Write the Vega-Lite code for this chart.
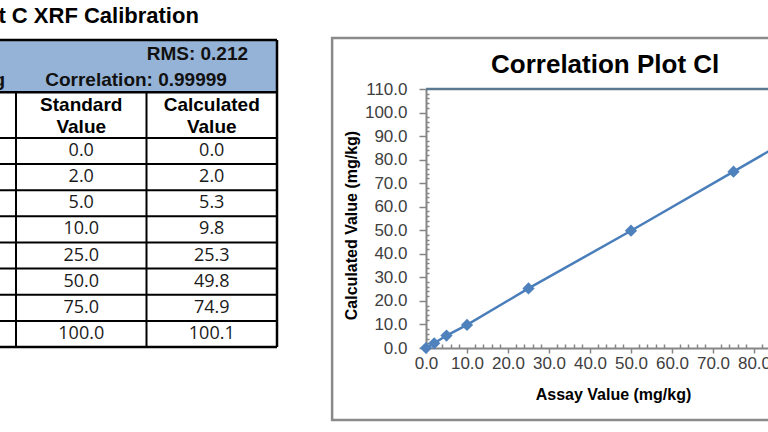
{
  "$schema": "https://vega.github.io/schema/vega-lite/v6.json",
  "width": 768,
  "height": 432,
  "autosize": {"type": "none"},
  "padding": 0,
  "background": "white",
  "config": {"view": {"stroke": null}},
  "datasets": {
    "cal": [
      {"row": 1, "std": 0.0, "calc": 0.0},
      {"row": 2, "std": 2.0, "calc": 2.0},
      {"row": 3, "std": 5.0, "calc": 5.3},
      {"row": 4, "std": 10.0, "calc": 9.8},
      {"row": 5, "std": 25.0, "calc": 25.3},
      {"row": 6, "std": 50.0, "calc": 49.8},
      {"row": 7, "std": 75.0, "calc": 74.9},
      {"row": 8, "std": 100.0, "calc": 100.1}
    ]
  },
  "resolve": {"scale": {"x": "independent", "y": "independent"}, "axis": {"x": "independent", "y": "independent"}},
  "layer": [
    {
      "layer": [
        {
          "data": {"values": [{}]},
          "mark": {"type": "rect", "fill": "#95b3d7"},
          "encoding": {
            "x": {"datum": 0, "type": "quantitative", "scale": {"domain": [0, 3], "range": [-114.5, 277], "nice": false, "zero": false}, "axis": null},
            "x2": {"datum": 3},
            "y": {"datum": -3.25, "type": "quantitative", "scale": {"domain": [-3.25, 8.5], "range": [40, 347], "nice": false, "zero": false}, "axis": null},
            "y2": {"datum": -1.25}
          }
        },
        {
          "data": {"name": "cal"},
          "mark": {"type": "rule", "color": "#000000", "strokeWidth": 2, "yOffset": -13.06},
          "encoding": {"x": {"datum": 0}, "x2": {"datum": 3}, "y": {"field": "row", "type": "quantitative"}}
        },
        {
          "data": {"values": [{}]},
          "mark": {"type": "rule", "color": "#000000", "strokeWidth": 2.5},
          "encoding": {"x": {"datum": 0}, "x2": {"datum": 3}, "y": {"datum": 8.5}}
        },
        {
          "data": {"values": [{}]},
          "mark": {"type": "rule", "color": "#000000", "strokeWidth": 2.5},
          "encoding": {"x": {"datum": 0}, "x2": {"datum": 3}, "y": {"datum": -3.25}}
        },
        {
          "data": {"values": [{}]},
          "mark": {"type": "rule", "color": "#000000", "strokeWidth": 2.5},
          "encoding": {"x": {"datum": 0}, "x2": {"datum": 3}, "y": {"datum": -1.25}}
        },
        {
          "data": {"values": [{}]},
          "mark": {"type": "rule", "color": "#000000", "strokeWidth": 2},
          "encoding": {"x": {"datum": 1}, "y": {"datum": -1.25}, "y2": {"datum": 8.5}}
        },
        {
          "data": {"values": [{}]},
          "mark": {"type": "rule", "color": "#000000", "strokeWidth": 2},
          "encoding": {"x": {"datum": 2}, "y": {"datum": -1.25}, "y2": {"datum": 8.5}}
        },
        {
          "data": {"values": [{}]},
          "mark": {"type": "rule", "color": "#000000", "strokeWidth": 2.5},
          "encoding": {"x": {"datum": 3}, "y": {"datum": -3.25}, "y2": {"datum": 8.5}}
        },
        {
          "data": {"values": [{}]},
          "mark": {"type": "text", "font": "Liberation Sans", "fontSize": 22, "fontWeight": "bold", "color": "#000000", "align": "left", "baseline": "middle"},
          "encoding": {"x": {"datum": 0.865}, "y": {"datum": -4.17}, "text": {"value": "t C XRF Calibration"}}
        },
        {
          "data": {"values": [{}]},
          "mark": {"type": "text", "font": "Liberation Sans", "fontSize": 19, "fontWeight": "bold", "color": "#111111", "align": "right", "baseline": "middle"},
          "encoding": {"x": {"datum": 2.778}, "y": {"datum": -2.714}, "text": {"value": "RMS: 0.212"}}
        },
        {
          "data": {"values": [{}]},
          "mark": {"type": "text", "font": "Liberation Sans", "fontSize": 19, "fontWeight": "bold", "color": "#111111", "align": "center", "baseline": "middle"},
          "encoding": {"x": {"datum": 1.92}, "y": {"datum": -1.72}, "text": {"value": "Correlation: 0.99999"}}
        },
        {
          "data": {"values": [{}]},
          "mark": {"type": "text", "font": "Liberation Sans", "fontSize": 19, "fontWeight": "bold", "color": "#111111", "align": "right", "baseline": "middle"},
          "encoding": {"x": {"datum": 0.916}, "y": {"datum": -1.72}, "text": {"value": "mg/kg"}}
        },
        {
          "data": {"values": [{}]},
          "mark": {"type": "text", "font": "Liberation Sans", "fontSize": 19, "fontWeight": "bold", "color": "#000000", "align": "center", "baseline": "middle", "lineHeight": 22},
          "encoding": {"x": {"datum": 1.5}, "y": {"datum": -0.76}, "text": {"value": ["Standard", "Value"]}}
        },
        {
          "data": {"values": [{}]},
          "mark": {"type": "text", "font": "Liberation Sans", "fontSize": 19, "fontWeight": "bold", "color": "#000000", "align": "center", "baseline": "middle", "lineHeight": 22},
          "encoding": {"x": {"datum": 2.5}, "y": {"datum": -0.76}, "text": {"value": ["Calculated", "Value"]}}
        },
        {
          "data": {"name": "cal"},
          "mark": {"type": "text", "font": "Open Sans", "fontSize": 18, "color": "#1a1a1a", "align": "center", "baseline": "middle"},
          "encoding": {"x": {"datum": 1.5}, "y": {"field": "row", "type": "quantitative"}, "text": {"field": "std", "type": "quantitative", "format": ".1f"}}
        },
        {
          "data": {"name": "cal"},
          "mark": {"type": "text", "font": "Open Sans", "fontSize": 18, "color": "#1a1a1a", "align": "center", "baseline": "middle"},
          "encoding": {"x": {"datum": 2.5}, "y": {"field": "row", "type": "quantitative"}, "text": {"field": "calc", "type": "quantitative", "format": ".1f"}}
        }
      ]
    },
    {
      "layer": [
        {
          "data": {"values": [{}]},
          "mark": {"type": "rect", "fill": "transparent", "stroke": "#8a8a8a", "strokeWidth": 2.5},
          "encoding": {
            "x": {"datum": -22.9, "type": "quantitative", "scale": {"domain": [0, 110], "range": [426, 877], "nice": false, "zero": false},
              "axis": {"orient": "bottom", "offset": -84, "values": [0,2,4,6,8,10,12,14,16,18,20,22,24,26,28,30,32,34,36,38,40,42,44,46,48,50,52,54,56,58,60,62,64,66,68,70,72,74,76,78,80,82,84,86,88,90,92,94,96,98,100,102,104,106,108,110], "labelExpr": "datum.value % 10 === 0 ? format(datum.value, '.1f') : ''", "labelFont": "Liberation Sans", "labelFontSize": 17, "labelColor": "#404040", "labelPadding": 2, "labelOverlap": false, "labelFlush": false, "labelBound": false, "tickColor": "#868686", "tickWidth": 1.5, "tickSize": {"condition": {"test": "datum.value % 10 === 0", "value": 5}, "value": -4}, "domainColor": "#868686", "domainWidth": 2, "grid": false, "title": "Assay Value (mg/kg)", "titleFont": "Liberation Sans", "titleFontSize": 16, "titleFontWeight": "bold", "titleColor": "#000000", "titleX": 613, "titleY": 46, "titleAlign": "center", "titleBaseline": "middle"}},
            "x2": {"datum": 110.7},
            "y": {"datum": 131.7, "type": "quantitative", "scale": {"domain": [0, 110], "range": [348, 89], "nice": false, "zero": false},
              "axis": {"orient": "left", "offset": -426, "values": [0,2,4,6,8,10,12,14,16,18,20,22,24,26,28,30,32,34,36,38,40,42,44,46,48,50,52,54,56,58,60,62,64,66,68,70,72,74,76,78,80,82,84,86,88,90,92,94,96,98,100,102,104,106,108,110], "labelExpr": "datum.value % 10 === 0 ? format(datum.value, '.1f') : ''", "labelFont": "Liberation Sans", "labelFontSize": 17, "labelColor": "#404040", "labelPadding": 12, "labelOverlap": false, "labelFlush": false, "labelBound": false, "tickColor": "#868686", "tickWidth": 1.5, "tickSize": {"condition": {"test": "datum.value % 10 === 0", "value": 7}, "value": -3}, "domainColor": "#868686", "domainWidth": 2, "grid": false, "title": "Calculated Value (mg/kg)", "titleFont": "Liberation Sans", "titleFontSize": 16, "titleFontWeight": "bold", "titleColor": "#000000", "titleX": -75, "titleY": 225, "titleAngle": -90, "titleAlign": "center", "titleBaseline": "middle"}},
            "y2": {"datum": -30.6}
          }
        },
        {
          "data": {"values": [{}]},
          "mark": {"type": "rule", "color": "#5b7a91", "strokeWidth": 2.5},
          "encoding": {
            "x": {"datum": 0, "type": "quantitative",
              "axis": {"orient": "bottom", "offset": -84, "values": [0,2,4,6,8,10,12,14,16,18,20,22,24,26,28,30,32,34,36,38,40,42,44,46,48,50,52,54,56,58,60,62,64,66,68,70,72,74,76,78,80,82,84,86,88,90,92,94,96,98,100,102,104,106,108,110], "labelExpr": "datum.value % 10 === 0 ? format(datum.value, '.1f') : ''", "labelFont": "Liberation Sans", "labelFontSize": 17, "labelColor": "#404040", "labelPadding": 2, "labelOverlap": false, "labelFlush": false, "labelBound": false, "tickColor": "#868686", "tickWidth": 1.5, "tickSize": {"condition": {"test": "datum.value % 10 === 0", "value": 5}, "value": -4}, "domainColor": "#868686", "domainWidth": 2, "grid": false, "title": "Assay Value (mg/kg)", "titleFont": "Liberation Sans", "titleFontSize": 16, "titleFontWeight": "bold", "titleColor": "#000000", "titleX": 613, "titleY": 46, "titleAlign": "center", "titleBaseline": "middle"}},
            "x2": {"datum": 110},
            "y": {"datum": 110, "type": "quantitative",
              "axis": {"orient": "left", "offset": -426, "values": [0,2,4,6,8,10,12,14,16,18,20,22,24,26,28,30,32,34,36,38,40,42,44,46,48,50,52,54,56,58,60,62,64,66,68,70,72,74,76,78,80,82,84,86,88,90,92,94,96,98,100,102,104,106,108,110], "labelExpr": "datum.value % 10 === 0 ? format(datum.value, '.1f') : ''", "labelFont": "Liberation Sans", "labelFontSize": 17, "labelColor": "#404040", "labelPadding": 12, "labelOverlap": false, "labelFlush": false, "labelBound": false, "tickColor": "#868686", "tickWidth": 1.5, "tickSize": {"condition": {"test": "datum.value % 10 === 0", "value": 7}, "value": -3}, "domainColor": "#868686", "domainWidth": 2, "grid": false, "title": "Calculated Value (mg/kg)", "titleFont": "Liberation Sans", "titleFontSize": 16, "titleFontWeight": "bold", "titleColor": "#000000", "titleX": -75, "titleY": 225, "titleAngle": -90, "titleAlign": "center", "titleBaseline": "middle"}}
          }
        },
        {
          "data": {"name": "cal"},
          "mark": {"type": "line", "color": "#4a7ebb", "strokeWidth": 2.5},
          "encoding": {
            "x": {"field": "std", "type": "quantitative",
              "axis": {"orient": "bottom", "offset": -84, "values": [0,2,4,6,8,10,12,14,16,18,20,22,24,26,28,30,32,34,36,38,40,42,44,46,48,50,52,54,56,58,60,62,64,66,68,70,72,74,76,78,80,82,84,86,88,90,92,94,96,98,100,102,104,106,108,110], "labelExpr": "datum.value % 10 === 0 ? format(datum.value, '.1f') : ''", "labelFont": "Liberation Sans", "labelFontSize": 17, "labelColor": "#404040", "labelPadding": 2, "labelOverlap": false, "labelFlush": false, "labelBound": false, "tickColor": "#868686", "tickWidth": 1.5, "tickSize": {"condition": {"test": "datum.value % 10 === 0", "value": 5}, "value": -4}, "domainColor": "#868686", "domainWidth": 2, "grid": false, "title": "Assay Value (mg/kg)", "titleFont": "Liberation Sans", "titleFontSize": 16, "titleFontWeight": "bold", "titleColor": "#000000", "titleX": 613, "titleY": 46, "titleAlign": "center", "titleBaseline": "middle"}},
            "y": {"field": "calc", "type": "quantitative",
              "axis": {"orient": "left", "offset": -426, "values": [0,2,4,6,8,10,12,14,16,18,20,22,24,26,28,30,32,34,36,38,40,42,44,46,48,50,52,54,56,58,60,62,64,66,68,70,72,74,76,78,80,82,84,86,88,90,92,94,96,98,100,102,104,106,108,110], "labelExpr": "datum.value % 10 === 0 ? format(datum.value, '.1f') : ''", "labelFont": "Liberation Sans", "labelFontSize": 17, "labelColor": "#404040", "labelPadding": 12, "labelOverlap": false, "labelFlush": false, "labelBound": false, "tickColor": "#868686", "tickWidth": 1.5, "tickSize": {"condition": {"test": "datum.value % 10 === 0", "value": 7}, "value": -3}, "domainColor": "#868686", "domainWidth": 2, "grid": false, "title": "Calculated Value (mg/kg)", "titleFont": "Liberation Sans", "titleFontSize": 16, "titleFontWeight": "bold", "titleColor": "#000000", "titleX": -75, "titleY": 225, "titleAngle": -90, "titleAlign": "center", "titleBaseline": "middle"}}
          }
        },
        {
          "data": {"name": "cal"},
          "mark": {"type": "point", "shape": "diamond", "filled": true, "size": 150, "color": "#4f81bd", "opacity": 1},
          "encoding": {
            "x": {"field": "std", "type": "quantitative",
              "axis": {"orient": "bottom", "offset": -84, "values": [0,2,4,6,8,10,12,14,16,18,20,22,24,26,28,30,32,34,36,38,40,42,44,46,48,50,52,54,56,58,60,62,64,66,68,70,72,74,76,78,80,82,84,86,88,90,92,94,96,98,100,102,104,106,108,110], "labelExpr": "datum.value % 10 === 0 ? format(datum.value, '.1f') : ''", "labelFont": "Liberation Sans", "labelFontSize": 17, "labelColor": "#404040", "labelPadding": 2, "labelOverlap": false, "labelFlush": false, "labelBound": false, "tickColor": "#868686", "tickWidth": 1.5, "tickSize": {"condition": {"test": "datum.value % 10 === 0", "value": 5}, "value": -4}, "domainColor": "#868686", "domainWidth": 2, "grid": false, "title": "Assay Value (mg/kg)", "titleFont": "Liberation Sans", "titleFontSize": 16, "titleFontWeight": "bold", "titleColor": "#000000", "titleX": 613, "titleY": 46, "titleAlign": "center", "titleBaseline": "middle"}},
            "y": {"field": "calc", "type": "quantitative",
              "axis": {"orient": "left", "offset": -426, "values": [0,2,4,6,8,10,12,14,16,18,20,22,24,26,28,30,32,34,36,38,40,42,44,46,48,50,52,54,56,58,60,62,64,66,68,70,72,74,76,78,80,82,84,86,88,90,92,94,96,98,100,102,104,106,108,110], "labelExpr": "datum.value % 10 === 0 ? format(datum.value, '.1f') : ''", "labelFont": "Liberation Sans", "labelFontSize": 17, "labelColor": "#404040", "labelPadding": 12, "labelOverlap": false, "labelFlush": false, "labelBound": false, "tickColor": "#868686", "tickWidth": 1.5, "tickSize": {"condition": {"test": "datum.value % 10 === 0", "value": 7}, "value": -3}, "domainColor": "#868686", "domainWidth": 2, "grid": false, "title": "Calculated Value (mg/kg)", "titleFont": "Liberation Sans", "titleFontSize": 16, "titleFontWeight": "bold", "titleColor": "#000000", "titleX": -75, "titleY": 225, "titleAngle": -90, "titleAlign": "center", "titleBaseline": "middle"}}
          }
        },
        {
          "data": {"values": [{}]},
          "mark": {"type": "text", "font": "Liberation Sans", "fontSize": 26, "fontWeight": "bold", "color": "#000000", "align": "center", "baseline": "middle"},
          "encoding": {
            "x": {"datum": 43.7, "type": "quantitative",
              "axis": {"orient": "bottom", "offset": -84, "values": [0,2,4,6,8,10,12,14,16,18,20,22,24,26,28,30,32,34,36,38,40,42,44,46,48,50,52,54,56,58,60,62,64,66,68,70,72,74,76,78,80,82,84,86,88,90,92,94,96,98,100,102,104,106,108,110], "labelExpr": "datum.value % 10 === 0 ? format(datum.value, '.1f') : ''", "labelFont": "Liberation Sans", "labelFontSize": 17, "labelColor": "#404040", "labelPadding": 2, "labelOverlap": false, "labelFlush": false, "labelBound": false, "tickColor": "#868686", "tickWidth": 1.5, "tickSize": {"condition": {"test": "datum.value % 10 === 0", "value": 5}, "value": -4}, "domainColor": "#868686", "domainWidth": 2, "grid": false, "title": "Assay Value (mg/kg)", "titleFont": "Liberation Sans", "titleFontSize": 16, "titleFontWeight": "bold", "titleColor": "#000000", "titleX": 613, "titleY": 46, "titleAlign": "center", "titleBaseline": "middle"}},
            "y": {"datum": 120.2, "type": "quantitative",
              "axis": {"orient": "left", "offset": -426, "values": [0,2,4,6,8,10,12,14,16,18,20,22,24,26,28,30,32,34,36,38,40,42,44,46,48,50,52,54,56,58,60,62,64,66,68,70,72,74,76,78,80,82,84,86,88,90,92,94,96,98,100,102,104,106,108,110], "labelExpr": "datum.value % 10 === 0 ? format(datum.value, '.1f') : ''", "labelFont": "Liberation Sans", "labelFontSize": 17, "labelColor": "#404040", "labelPadding": 12, "labelOverlap": false, "labelFlush": false, "labelBound": false, "tickColor": "#868686", "tickWidth": 1.5, "tickSize": {"condition": {"test": "datum.value % 10 === 0", "value": 7}, "value": -3}, "domainColor": "#868686", "domainWidth": 2, "grid": false, "title": "Calculated Value (mg/kg)", "titleFont": "Liberation Sans", "titleFontSize": 16, "titleFontWeight": "bold", "titleColor": "#000000", "titleX": -75, "titleY": 225, "titleAngle": -90, "titleAlign": "center", "titleBaseline": "middle"}},
            "text": {"value": "Correlation Plot Cl"}
          }
        }
      ]
    }
  ]
}
